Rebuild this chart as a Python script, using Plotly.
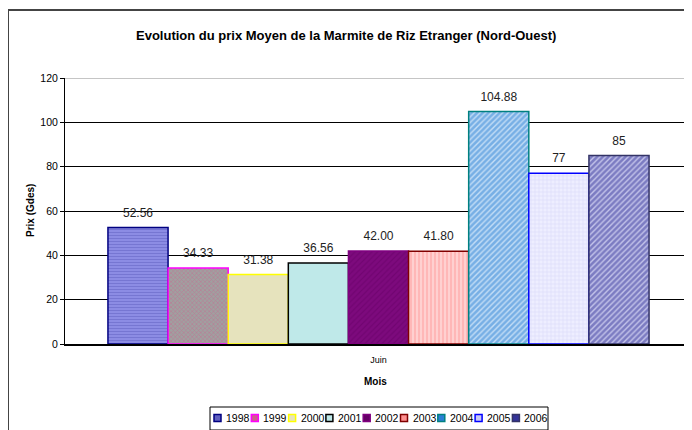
import plotly.graph_objects as go

# ---- data ----
years = ["1998", "1999", "2000", "2001", "2002", "2003", "2004", "2005", "2006"]
prices = [52.56, 34.33, 31.38, 36.56, 42.00, 41.80, 104.88, 77, 85]
labels = ["52.56", "34.33", "31.38", "36.56", "42.00", "41.80", "104.88", "77", "85"]
category = "Juin"
yticks = [0, 20, 40, 60, 80, 100, 120]

# ---- styles ----
fills = ["#8383dc", "#a8a0a8", "#e6e3bd", "#bfe9e9", "#7a087a", "#ffc4c4", "#cfe3f7", "#e4e4ff", "#ffffff"]
borders = ["#000080", "#ff00ff", "#ffff00", "#000000", "#800080", "#800000", "#008080", "#0000ff", "#333366"]
patterns = [
    dict(shape="-", fgcolor="#6060c0", bgcolor="#8c8ce4", size=3, solidity=0.35),
    dict(shape="x", fgcolor="#d05c8c", bgcolor="#a0a0a0", size=3, solidity=0.4),
    None,
    None,
    dict(shape="/", fgcolor="#660066", bgcolor="#7d0a7d", size=4, solidity=0.3),
    dict(shape="|", fgcolor="#ff9090", bgcolor="#ffd0d0", size=4, solidity=0.4),
    dict(shape="/", fgcolor="#2a7fd4", bgcolor="#c4def6", size=4, solidity=0.65),
    dict(shape="+", fgcolor="#c8c8f4", bgcolor="#eeeeff", size=4, solidity=0.3),
    dict(shape="/", fgcolor="#333399", bgcolor="#c4c4ea", size=4, solidity=0.65),
]

# the page body adds an 8px margin, so the figure is 8px smaller than the window
OFF = 8
W, H = 692 - OFF, 430 - OFF
ML, MR, MT, MB = 65 - OFF, 0, 78 - OFF, 86
PW, PH = W - ML - MR, H - MT - MB
GAP = 0.137


def px(x):  # x in window pixels
    return (x - OFF - ML) / PW


def py(y):  # y in window pixels
    return (H - MB - (y - OFF)) / PH


FONT = "Arial, Liberation Sans, sans-serif"

fig = go.Figure()
for i, yr in enumerate(years):
    marker = dict(color=fills[i], line=dict(color=borders[i], width=1.5))
    if patterns[i] is not None:
        marker["pattern"] = patterns[i]
    fig.add_trace(go.Bar(
        x=[category], y=[prices[i]], name=yr, offsetgroup=yr,
        marker=marker, hoverinfo="x+y+name",
    ))
for i, yr in enumerate(years):
    fig.add_trace(go.Scatter(
        x=[category], y=[prices[i]], offsetgroup=yr, mode="markers+text",
        text=[labels[i]], textposition="top center", cliponaxis=False,
        marker=dict(size=11, opacity=0), showlegend=False, hoverinfo="skip",
        textfont=dict(family=FONT, size=12, color="#222222"),
    ))

shapes = []
annotations = []

# top edge of plot area is grey in the reference
shapes.append(dict(type="line", xref="paper", yref="y", x0=0, x1=1, y0=yticks[-1], y1=yticks[-1],
                   line=dict(color="#8c8c8c", width=1.2), layer="above"))

# outer frame (cropped at right/bottom)
shapes.append(dict(type="line", xref="paper", yref="paper",
                   x0=px(8), x1=px(700), y0=py(10), y1=py(10),
                   line=dict(color="#444444", width=2)))
shapes.append(dict(type="line", xref="paper", yref="paper",
                   x0=px(8), x1=px(8), y0=py(10), y1=py(440),
                   line=dict(color="#444444", width=2)))

# legend box
shapes.append(dict(type="rect", xref="paper", yref="paper",
                   x0=px(210), x1=px(548), y0=py(407), y1=py(430),
                   line=dict(color="#000000", width=1), fillcolor="#ffffff"))
for i, yr in enumerate(years):
    x0 = 214 + i * 37.3
    shapes.append(dict(type="rect", xref="paper", yref="paper",
                       x0=px(x0), x1=px(x0 + 7), y0=py(414.5), y1=py(421.5),
                       line=dict(color=borders[i], width=1.5),
                       fillcolor=(patterns[i]["fgcolor"] if patterns[i] else fills[i])))
    annotations.append(dict(xref="paper", yref="paper", x=px(x0 + 10), y=py(418),
                            text=yr, showarrow=False, xanchor="left", yanchor="middle",
                            font=dict(family=FONT, size=10.5, color="#000000")))

# title
annotations.append(dict(xref="paper", yref="paper", x=px(346), y=py(35),
                        text="<b>Evolution du prix Moyen de la Marmite de Riz Etranger (Nord-Ouest)</b>",
                        showarrow=False, xanchor="center", yanchor="middle",
                        font=dict(family=FONT, size=13, color="#000000")))
# y title
annotations.append(dict(xref="paper", yref="paper", x=px(30), y=py(211),
                        text="<b>Prix (Gdes)</b>", showarrow=False, textangle=-90,
                        xanchor="center", yanchor="middle",
                        font=dict(family=FONT, size=10, color="#000000")))
# x title
annotations.append(dict(xref="paper", yref="paper", x=px(375), y=py(381),
                        text="<b>Mois</b>", showarrow=False,
                        xanchor="center", yanchor="middle",
                        font=dict(family=FONT, size=10, color="#000000")))

fig.update_layout(
    width=W, height=H,
    margin=dict(l=ML, r=MR, t=MT, b=MB, autoexpand=False),
    paper_bgcolor="#ffffff", plot_bgcolor="#ffffff",
    barmode="group", bargap=GAP, bargroupgap=0,
    scattermode="group", scattergap=GAP,
    showlegend=False,
    font=dict(family=FONT, color="#000000"),
    shapes=shapes, annotations=annotations,
)
fig.update_yaxes(range=[0, 120], tickvals=yticks, showgrid=True, gridcolor="#000000",
                 gridwidth=1, showline=True, linecolor="#000000", linewidth=1,
                 ticks="outside", ticklen=4, tickcolor="#000000",
                 tickfont=dict(family=FONT, size=10.5, color="#000000"), zeroline=False)
fig.update_xaxes(showline=True, linecolor="#000000", linewidth=1.5,
                 ticks="", ticklabelstandoff=6,
                 tickfont=dict(family=FONT, size=9, color="#000000"))

fig.write_html("out.html")
